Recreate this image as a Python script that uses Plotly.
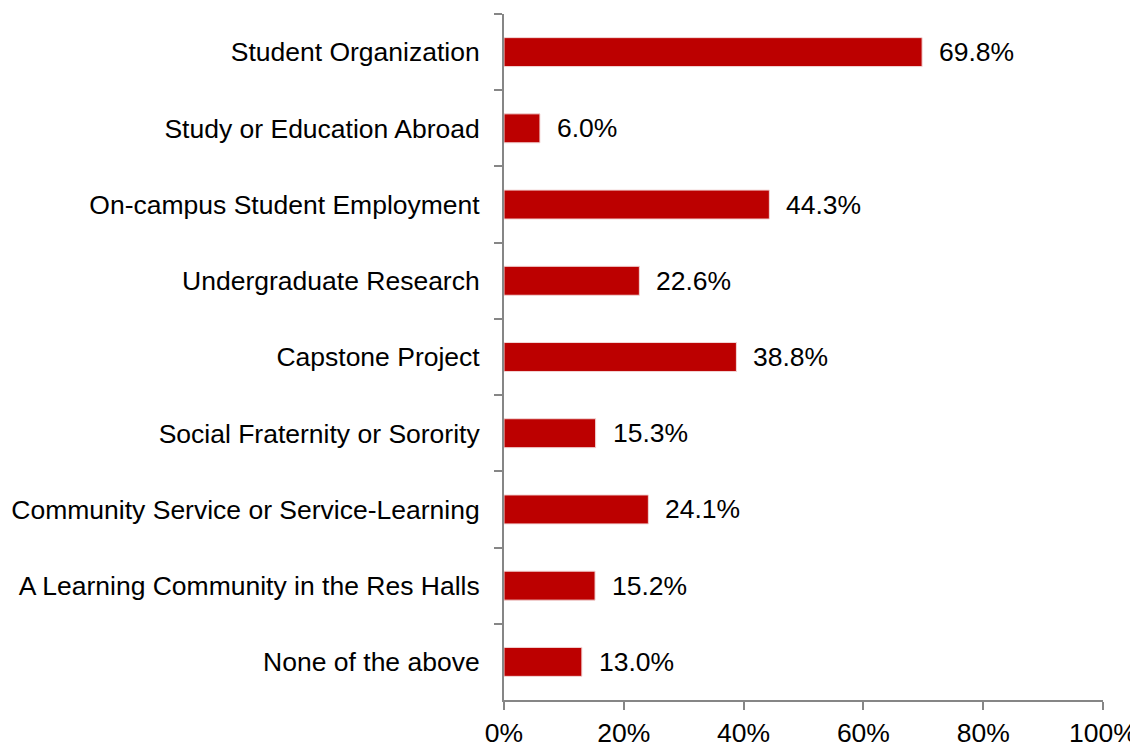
import plotly.graph_objects as go

categories = [
    "Student Organization",
    "Study or Education Abroad",
    "On-campus Student Employment",
    "Undergraduate Research",
    "Capstone Project",
    "Social Fraternity or Sorority",
    "Community Service or Service-Learning",
    "A Learning Community in the Res Halls",
    "None of the above",
]
values = [69.8, 6.0, 44.3, 22.6, 38.8, 15.3, 24.1, 15.2, 13.0]
x_tick_vals = [0, 20, 40, 60, 80, 100]
x_tick_text = ["0%", "20%", "40%", "60%", "80%", "100%"]

FONT = "Liberation Sans, Arial, sans-serif"
AXIS = "#868686"
FS = 26.5

fig = go.Figure()
fig.add_trace(go.Bar(
    x=values, y=categories, orientation="h",
    width=0.38,
    marker=dict(color="#BC0000", line=dict(color="#F2D6D6", width=1)),
    hoverinfo="skip",
))

for c, v in zip(categories, values):
    fig.add_annotation(x=v, y=c, text=f"{v:.1f}%", showarrow=False,
                       xanchor="left", yanchor="middle", xshift=15,
                       font=dict(family=FONT, size=FS, color="#000000"))

fig.update_layout(
    width=1138, height=742,
    margin=dict(l=496, r=43, t=6, b=50),
    paper_bgcolor="white", plot_bgcolor="white",
    showlegend=False,
    font=dict(family=FONT, size=FS, color="#000000"),
)
fig.update_xaxes(
    range=[0, 100], tickvals=x_tick_vals, ticktext=x_tick_text,
    showgrid=False, zeroline=False, automargin=False,
    showline=True, linecolor=AXIS, linewidth=2,
    ticks="outside", ticklen=8, tickcolor=AXIS, tickwidth=2,
    tickfont=dict(family=FONT, size=FS, color="#000000"),
)
fig.update_yaxes(
    autorange="reversed", showgrid=False, zeroline=False, automargin=False,
    showline=True, linecolor=AXIS, linewidth=2,
    ticks="outside", ticklen=8, tickcolor=AXIS, tickwidth=2,
    tickson="boundaries", ticklabelstandoff=17,
    tickfont=dict(family=FONT, size=FS, color="#000000"),
)

fig.write_html("out.html")
